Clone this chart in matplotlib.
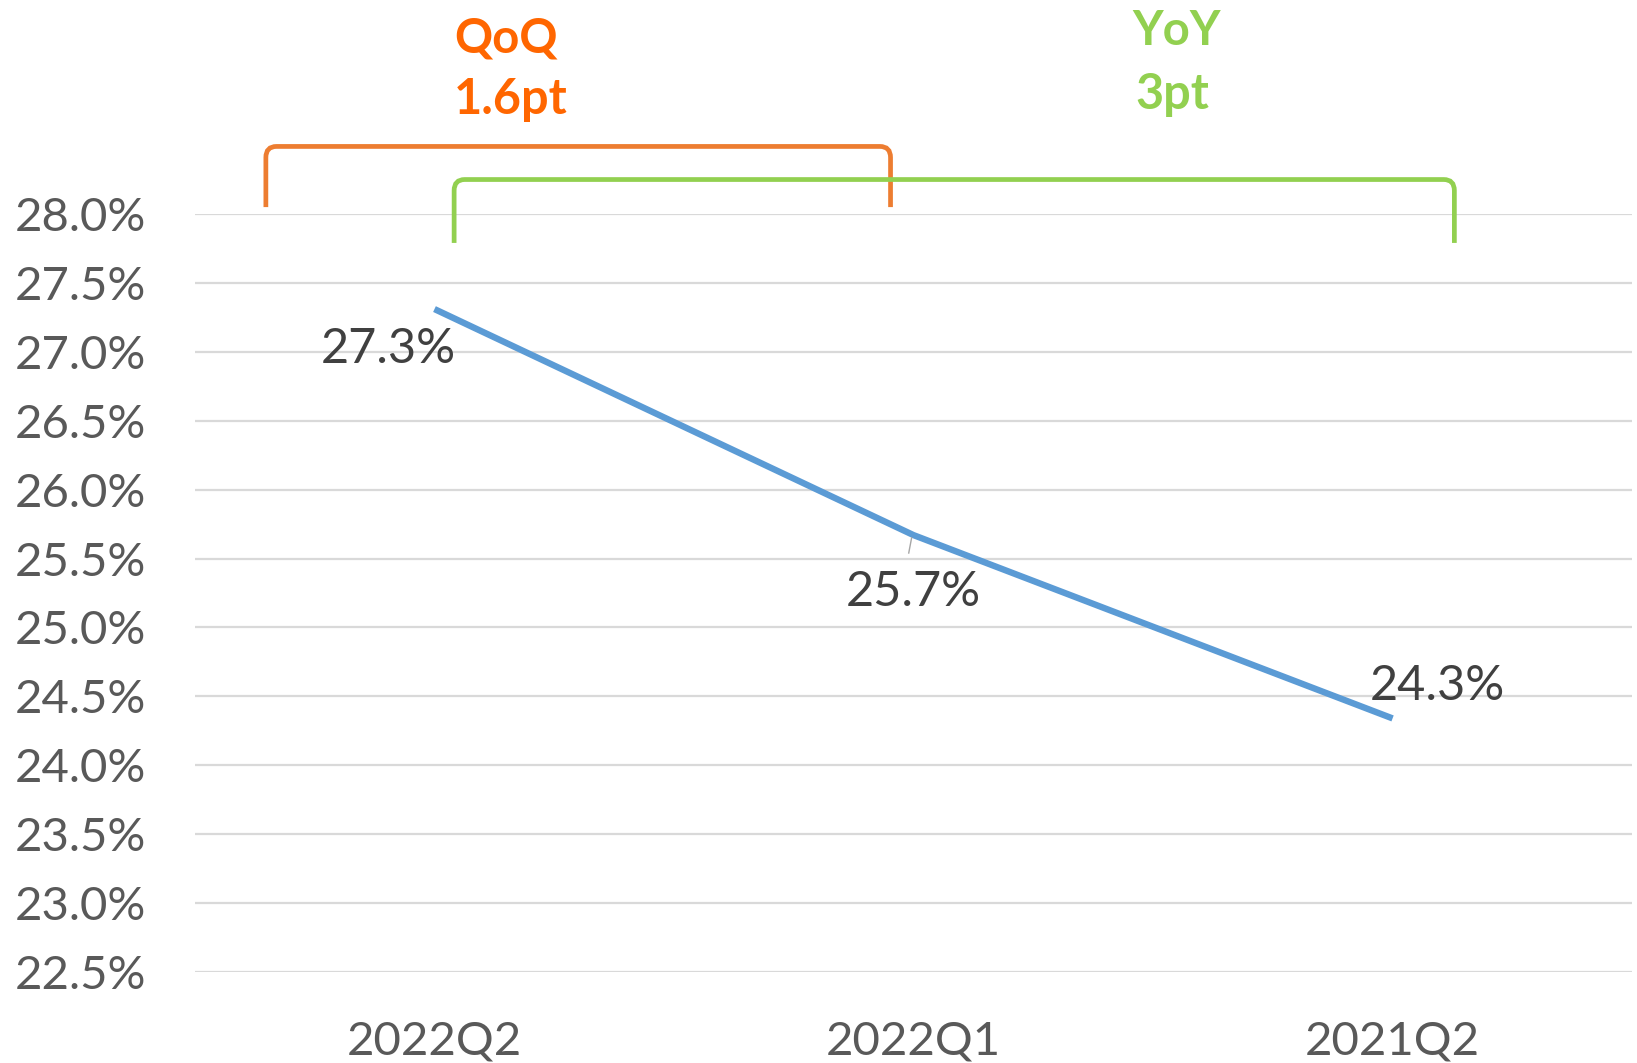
import matplotlib
matplotlib.use("Agg")
import matplotlib.pyplot as plt
from matplotlib.path import Path
from matplotlib.patches import PathPatch

categories = ["2022Q2", "2022Q1", "2021Q2"]
values = [27.31, 25.67, 24.34]
labels = ["27.3%", "25.7%", "24.3%"]
yticks = [22.5, 23.0, 23.5, 24.0, 24.5, 25.0, 25.5, 26.0, 26.5, 27.0, 27.5, 28.0]

# brackets: (left x, right x, top y, bottom y) in data units
qoq_bracket = (0.148, 1.452, 28.49, 28.05)
yoy_bracket = (0.541, 2.629, 28.25, 27.79)

plt.rcParams['font.family'] = ['Lato', 'DejaVu Sans']

fig = plt.figure(figsize=(16.37, 10.63), dpi=100)
ax = fig.add_axes([0.1191, 0.0856, 0.8779, 0.7131])

x = [i + 0.5 for i in range(len(categories))]
ax.plot(x, values, color="#5B9BD5", lw=4.6, solid_capstyle="butt", zorder=3)

ax.set_xlim(0, 3)
ax.set_ylim(22.5, 28.0)
ax.set_yticks(yticks)
ax.set_yticklabels(["%.1f%%" % v for v in yticks])
ax.set_xticks(x)
ax.set_xticklabels(categories)
ax.tick_params(length=0, labelsize=34, colors="#595959")
ax.tick_params(axis="y", pad=35)
ax.tick_params(axis="x", pad=35)
ax.grid(axis="y", color="#D9D9D9", lw=1.6)
ax.set_axisbelow(True)
for s in ax.spines.values():
    s.set_visible(False)

offsets = [(-33, -29), (0, -41), (32, 23)]
for xi, v, lab, off in zip(x, values, labels, offsets):
    ax.annotate(lab, (xi, v), xytext=off, textcoords="offset points",
                ha="center", va="center", fontsize=35, color="#404040")

# little leader mark at middle point
ax.plot([x[1] - 0.004, x[1] - 0.01], [values[1] - 0.02, values[1] - 0.13],
        color="#A6A6A6", lw=1, zorder=4)


def bracket(b, color):
    l, r, top, bot = b
    rx, ry = 0.022, 0.08
    verts = [(l, bot), (l, top - ry), (l, top), (l + rx, top),
             (r - rx, top), (r, top), (r, top - ry), (r, bot)]
    codes = [Path.MOVETO, Path.LINETO, Path.CURVE3, Path.CURVE3,
             Path.LINETO, Path.CURVE3, Path.CURVE3, Path.LINETO]
    ax.add_patch(PathPatch(Path(verts, codes), fill=False, edgecolor=color,
                           lw=3.4, clip_on=False, zorder=5))


bracket(qoq_bracket, "#ED7D31")
bracket(yoy_bracket, "#92D050")

ax.text(0.65, 29.27, "QoQ", ha="center", va="center", fontsize=34,
        fontweight="bold", color="#FF6600", clip_on=False)
ax.text(0.66, 28.83, "1.6pt", ha="center", va="center", fontsize=35,
        fontweight="bold", color="#FF6600", clip_on=False)
ax.text(2.05, 29.33, "YoY", ha="center", va="center", fontsize=34,
        fontweight="bold", color="#92D050", clip_on=False)
ax.text(2.04, 28.87, "3pt", ha="center", va="center", fontsize=35,
        fontweight="bold", color="#92D050", clip_on=False)

fig.savefig("out.png", dpi=100)
